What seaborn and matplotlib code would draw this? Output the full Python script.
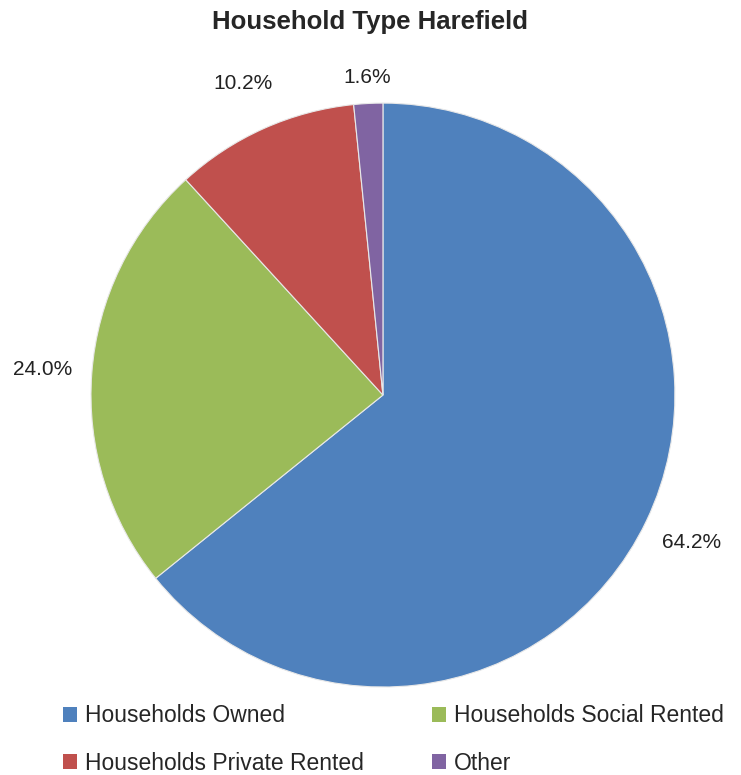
import numpy as np
import matplotlib
matplotlib.use("Agg")
import matplotlib.pyplot as plt
import seaborn as sns
from matplotlib.patches import Patch

sns.set_style("white")
plt.rcParams["font.family"] = ["Liberation Sans", "DejaVu Sans"]

# Data
categories = ["Households Owned", "Households Social Rented",
              "Households Private Rented", "Other"]
shares = [64.2, 24.0, 10.2, 1.6]
colors = ["#4F81BD", "#9BBB59", "#C0504D", "#8064A2"]

fig = plt.figure(figsize=(7.41, 7.75), dpi=100)
ax = fig.add_axes([0.1228, 0.1135, 0.788, 0.7535])

wedges, texts, autotexts = ax.pie(
    shares, colors=colors, startangle=90, counterclock=False,
    autopct="%.1f%%", pctdistance=1.17,
    wedgeprops=dict(edgecolor="#e8e8e8", linewidth=0.8),
    textprops=dict(fontsize=15, color="#222222"),
)
# last small slice label sits closer to the pie
x, y = autotexts[-1].get_position()
autotexts[-1].set_position((x * 1.09 / 1.17, y * 1.09 / 1.17))
ax.set_xlim(-1, 1)
ax.set_ylim(-1, 1)
ax.set_aspect("equal")
ax.axis("off")

fig.suptitle("Household Type Harefield", y=0.987, fontsize=18.5, fontweight="bold")

# legend order: row-wise (Owned, Social / Private, Other)
order = [0, 2, 1, 3]
handles = [Patch(facecolor=colors[i], edgecolor="none") for i in order]
labels = [categories[i] for i in order]
fig.legend(handles, labels, ncol=2, loc="lower left", bbox_to_anchor=(0.057, -0.026),
           frameon=False, fontsize=16.5, handlelength=0.6, handleheight=0.6,
           handletextpad=0.35, columnspacing=3.0, labelspacing=1.05)

fig.savefig("out.png", dpi=100)
